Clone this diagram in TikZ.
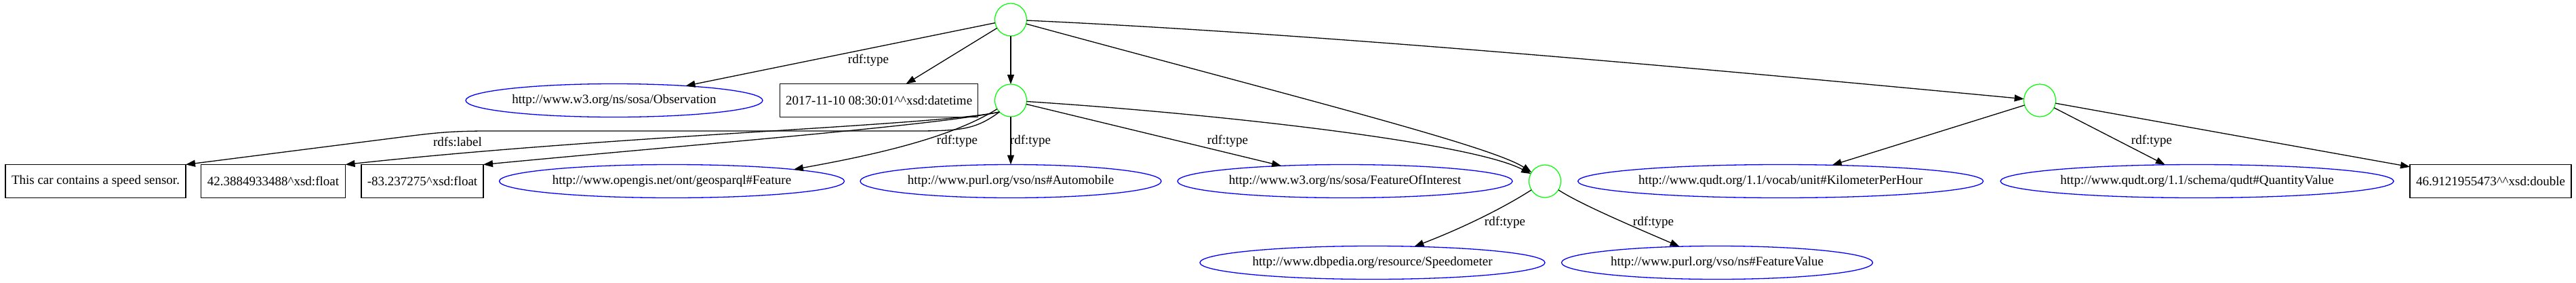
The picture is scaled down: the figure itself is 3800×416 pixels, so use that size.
\documentclass[tikz,border=0pt]{standalone}
\usepackage{fontspec}
\setmainfont{Liberation Serif}
\usetikzlibrary{shapes.geometric,arrows.meta}
\definecolor{gvgreen}{RGB}{0,255,0}
\definecolor{gvblue}{RGB}{0,0,255}
\begin{document}
\begin{tikzpicture}[x=1pt,y=-1pt,
  every node/.style={font=\fontsize{19}{22}\selectfont, inner sep=0pt, outer sep=0pt},
  blank/.style={ellipse, draw=gvgreen, line width=1.2pt, minimum width=47pt, minimum height=48pt},
  uri/.style={ellipse, draw=gvblue, line width=1.3pt, minimum width=#1, minimum height=49pt},
  lit/.style={rectangle, draw=black, line width=1.3pt, minimum width=#1, minimum height=49pt},
  edge/.style={draw=black, line width=1.3pt, -{Triangle[length=14pt,width=10pt]}},
  lbl/.style={}]
\fill[white] (0,0) rectangle (3800,416);
\useasboundingbox (0,0) rectangle (3800,416);

% blank nodes
\node[blank] (T) at (1491,29) {};
\node[blank] (M) at (1491,148) {};
\node[blank] (C3) at (2279,267) {};
\node[blank] (R) at (3009,148) {};

% uri / literal nodes
\node[uri=438pt] (obs) at (906,148) {http://www.w3.org/ns/sosa/Observation};
\node[lit=292pt] (dt) at (1296.6,148) {2017-11-10 08:30:01\textasciicircum\textasciicircum xsd:datetime};
\node[lit=266pt] (b1) at (141,267) {This car contains a speed sensor.};
\node[lit=213pt] (b2) at (403,267) {42.3884933488\textasciicircum xsd:float};
\node[lit=180pt] (b3) at (623,267) {-83.237275\textasciicircum xsd:float};
\node[uri=509pt] (feat) at (991,267) {http://www.opengis.net/ont/geosparql\#Feature};
\node[uri=444pt] (auto) at (1491,267) {http://www.purl.org/vso/ns\#Automobile};
\node[uri=494pt] (foi) at (1984,267) {http://www.w3.org/ns/sosa/FeatureOfInterest};
\node[uri=509pt] (speedo) at (2024.5,387) {http://www.dbpedia.org/resource/Speedometer};
\node[uri=459pt] (fv) at (2533,387) {http://www.purl.org/vso/ns\#FeatureValue};
\node[uri=598pt] (kmh) at (2626.6,267) {http://www.qudt.org/1.1/vocab/unit\#KilometerPerHour};
\node[uri=580pt] (qv) at (3241,267) {http://www.qudt.org/1.1/schema/qudt\#QuantityValue};
\node[lit=238pt] (dbl) at (3674,267) {46.9121955473\textasciicircum\textasciicircum xsd:double};

% edges from T
\draw[edge] (T) -- (obs);
\draw[edge] (T) -- (dt);
\draw[edge] (T) -- (M);
\draw[edge] (T) .. controls (1900,140) and (2200,215) .. (C3);
\draw[edge] (T) .. controls (1950,50) and (2500,100) .. (R);

% edges from M
\draw[edge] (M.south west) .. controls (1440,190) and (1420,193) .. (1350,193)
  -- (720,193) .. controls (665,193) and (640,196) .. (600,201) -- (b1.north east);
\draw[edge] (M.south west) .. controls (1380,185) and (900,200) .. (b2.north east);
\draw[edge] (M.south west) .. controls (1380,185) and (1000,215) .. (b3.north east);
\draw[edge] (M) .. controls (1400,205) and (1280,230) .. (feat.north east);
\draw[edge] (M) -- (auto);
\draw[edge] (M) -- (foi);
\draw[edge] (M) .. controls (1800,168) and (2170,210) .. (C3);

% edges from C3
\draw[edge] (C3) .. controls (2220,305) and (2160,335) .. (speedo);
\draw[edge] (C3) .. controls (2330,300) and (2400,330) .. (fv);

% edges from R
\draw[edge] (R) -- (kmh);
\draw[edge] (R) -- (qv);
\draw[edge] (R) -- (dbl);

% labels
\node[lbl] (l1) at (675,209) {rdfs:label};
\node[lbl] (l2) at (1281,89) {rdf:type};
\node[lbl] (l3) at (1412,208) {rdf:type};
\node[lbl] (l4) at (1520,208) {rdf:type};
\node[lbl] (l5) at (1811,208) {rdf:type};
\node[lbl] (l6) at (2220,328) {rdf:type};
\node[lbl] (l7) at (2439,328) {rdf:type};
\node[lbl] (l8) at (3174,208) {rdf:type};
\end{tikzpicture}
\end{document}
